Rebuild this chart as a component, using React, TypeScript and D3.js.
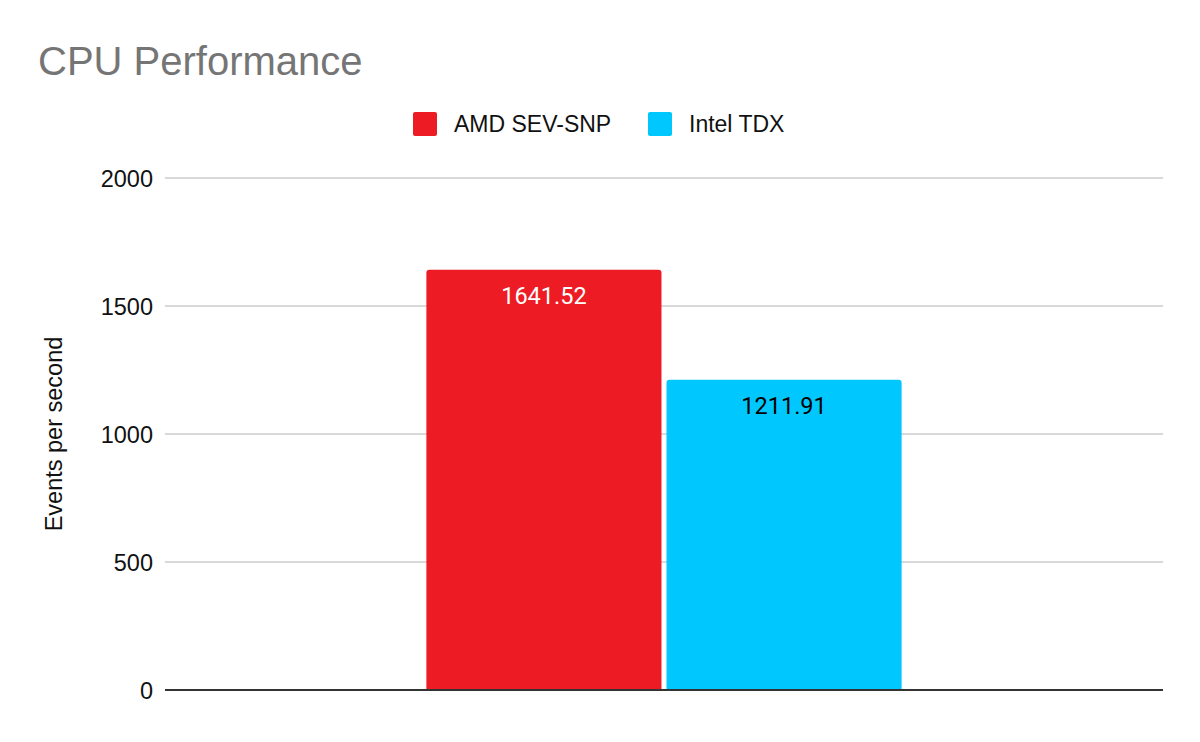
import React, { useEffect, useRef } from "react";
import * as d3 from "d3";

const width = 1200;
const height = 742;

const categories = [""];
const seriesNames = ["AMD SEV-SNP", "Intel TDX"];
const seriesColors = ["#ed1c24", "#00c8ff"];
const labelColors = ["#ffffff", "#000000"];
const amdValues = [1641.52];
const intelValues = [1211.91];
const yTicks = [0, 500, 1000, 1500, 2000];

const margin = { top: 178, right: 37, bottom: 52, left: 165 };
const sans = "'Liberation Sans', Arial, sans-serif";
const roboto = "Roboto, Arial, sans-serif";

const App: React.FC = () => {
  const svgRef = useRef<SVGSVGElement | null>(null);

  useEffect(() => {
    if (!svgRef.current) return;
    const svg = d3.select(svgRef.current);
    svg.selectAll("*").remove();

    const innerW = width - margin.left - margin.right;
    const innerH = height - margin.top - margin.bottom;

    const x = d3.scaleBand().domain(categories).range([0, innerW]).paddingInner(0).paddingOuter(0.55);
    const xs = d3.scaleBand().domain(seriesNames).range([0, x.bandwidth()]).paddingInner(0.021);
    const y = d3.scaleLinear().domain([0, 2000]).range([innerH, 0]);

    svg.append("rect").attr("width", width).attr("height", height).attr("fill", "#fff");

    svg
      .append("text")
      .attr("x", 38)
      .attr("y", 75)
      .attr("font-family", sans)
      .attr("font-size", 40)
      .attr("fill", "#757575")
      .text("CPU Performance");

    // legend
    const legend = svg.append("g").attr("font-family", sans).attr("font-size", 23);
    const legendX = [413, 648];
    seriesNames.forEach((name, i) => {
      legend
        .append("rect")
        .attr("x", legendX[i])
        .attr("y", 112)
        .attr("width", 24)
        .attr("height", 24)
        .attr("rx", 2)
        .attr("fill", seriesColors[i]);
      legend
        .append("text")
        .attr("x", legendX[i] + 41)
        .attr("y", 132)
        .attr("fill", "#111")
        .text(name);
    });

    const g = svg.append("g").attr("transform", `translate(${margin.left},${margin.top})`);

    // gridlines
    g.selectAll("line.grid")
      .data(yTicks.filter((t) => t > 0))
      .enter()
      .append("line")
      .attr("x1", 0)
      .attr("x2", innerW)
      .attr("y1", (d) => y(d))
      .attr("y2", (d) => y(d))
      .attr("stroke", "#cccccc")
      .attr("stroke-width", 1.3);

    g.selectAll("text.tick")
      .data(yTicks)
      .enter()
      .append("text")
      .attr("x", -12)
      .attr("y", (d) => y(d) + 8.5)
      .attr("text-anchor", "end")
      .attr("font-family", sans)
      .attr("font-size", 23.5)
      .attr("fill", "#111")
      .text((d) => d);

    const values = [amdValues, intelValues];
    const r = 3;
    categories.forEach((c, ci) => {
      seriesNames.forEach((s, si) => {
        const v = values[si][ci];
        const bx = (x(c) ?? 0) + (xs(s) ?? 0);
        const bw = xs.bandwidth();
        const top = y(v);
        const bottom = y(0);
        const p = d3.path();
        p.moveTo(bx, bottom);
        p.lineTo(bx, top + r);
        p.quadraticCurveTo(bx, top, bx + r, top);
        p.lineTo(bx + bw - r, top);
        p.quadraticCurveTo(bx + bw, top, bx + bw, top + r);
        p.lineTo(bx + bw, bottom);
        p.closePath();
        g.append("path").attr("d", p.toString()).attr("fill", seriesColors[si]);
        g.append("text")
          .attr("x", bx + bw / 2)
          .attr("y", top + 34)
          .attr("text-anchor", "middle")
          .attr("font-family", roboto)
          .attr("font-size", 23.5)
          .attr("fill", labelColors[si])
          .text(v.toFixed(2));
      });
    });

    // baseline
    g.append("line")
      .attr("x1", 0)
      .attr("x2", innerW)
      .attr("y1", y(0))
      .attr("y2", y(0))
      .attr("stroke", "#333333")
      .attr("stroke-width", 2);

    svg
      .append("text")
      .attr("transform", `translate(62,434) rotate(-90)`)
      .attr("text-anchor", "middle")
      .attr("font-family", sans)
      .attr("font-size", 23.5)
      .attr("fill", "#111")
      .text("Events per second");
  }, []);

  return <svg ref={svgRef} width={width} height={height} style={{ display: "block", margin: -8 }} />;
};

export default App;
